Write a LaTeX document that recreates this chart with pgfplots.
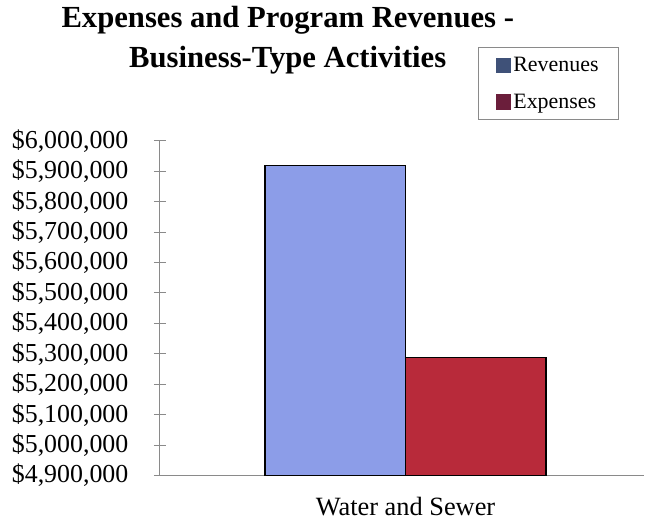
\documentclass[border=0pt]{standalone}
\usepackage{fontspec}
\setmainfont{Liberation Serif}
\usepackage{pgfplots}
\pgfplotsset{compat=1.18}
\definecolor{revfill}{HTML}{8C9DE8}
\definecolor{expfill}{HTML}{B82A3A}
\definecolor{revleg}{HTML}{3F5178}
\definecolor{expleg}{HTML}{6B1E3B}
\definecolor{axgray}{HTML}{8A8A8A}
\begin{document}
\begin{tikzpicture}
\begin{axis}[
  scale only axis, width=485bp, height=335bp,
  xmin=-1.014, xmax=0.986, ymin=4900, ymax=6000,
  axis lines*=left,
  axis line style={axgray, line width=1.2bp},
  ybar=0pt, bar width=0.58,
  ytick={4900,5000,...,6000},
  yticklabels={{\$4,900,000},{\$5,000,000},{\$5,100,000},{\$5,200,000},{\$5,300,000},{\$5,400,000},{\$5,500,000},{\$5,600,000},{\$5,700,000},{\$5,800,000},{\$5,900,000},{\$6,000,000}},
  ytick align=center, major tick length=12bp,
  y tick style={axgray, line width=1bp},
  xtick={0}, xticklabels={Water and Sewer},
  x tick style={draw=none},
  y tick label style={font=\fontsize{26}{26}\selectfont, xshift=-22bp},
  x tick label style={font=\fontsize{26.5}{26.5}\selectfont, yshift=-6bp},
  enlargelimits=false, clip=false,
  legend cell align=left,
  legend style={at={(0.656,1.281)}, anchor=north west, draw=axgray, line width=1bp,
    font=\fontsize{22}{22}\selectfont, inner xsep=18bp, inner ysep=8bp, row sep=17bp,
    nodes={inner sep=2bp}},
]
\addplot[fill=revfill, draw=black, line width=1.2bp,
  legend image code/.code={\fill[revleg] (0bp,-7bp) rectangle (14bp,7bp);}]
  coordinates {(0,5918)};
\addplot[fill=expfill, draw=black, line width=1.2bp,
  legend image code/.code={\fill[expleg] (0bp,-7bp) rectangle (14bp,7bp);}]
  coordinates {(0,5287)};
\legend{Revenues,Expenses}
\node[font=\fontsize{30.8}{40}\selectfont\bfseries, align=center] at (rel axis cs:0.264,1.300) {Expenses and Program Revenues -\\Business-Type Activities};
\path (rel axis cs:-0.3299,-0.1400) rectangle (rel axis cs:1,1.4209);
\end{axis}
\end{tikzpicture}
\end{document}
